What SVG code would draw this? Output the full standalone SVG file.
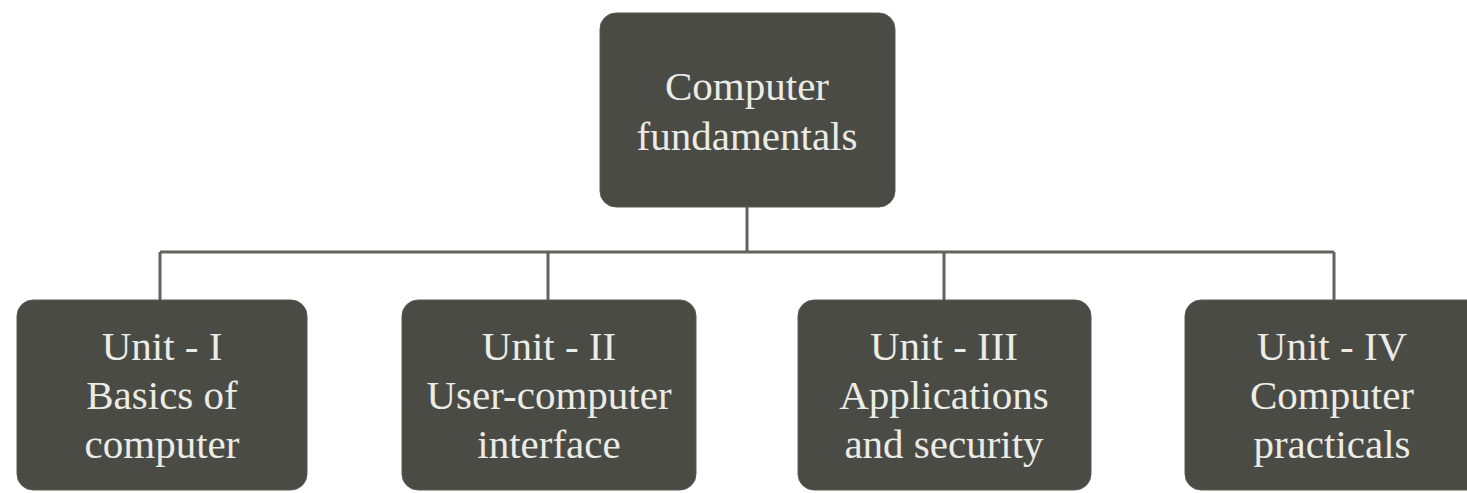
<svg xmlns="http://www.w3.org/2000/svg" width="1467" height="493" viewBox="0 0 1467 493">
<style>
.box{fill:#4b4b46;stroke:#5a5a55;stroke-width:1}
.t{font-family:"Liberation Serif","Times New Roman",serif;font-size:41px;fill:#ecece6;text-anchor:middle}
.c{stroke:#626260;stroke-width:3;fill:none}
</style>
<rect width="1467" height="493" fill="#ffffff"/>
<g id="connectors">
<path class="c" d="M747 207V252M160 252H1334M160 252V300M548 252V300M944 252V300M1334 252V300"/>
</g>
<g id="root">
<rect class="box" x="600" y="13" width="295" height="194" rx="16"/>
<text class="t" x="747" y="100">Computer</text>
<text class="t" x="747" y="150">fundamentals</text>
</g>
<g id="unit1">
<rect class="box" x="17" y="300" width="290" height="190" rx="16"/>
<text class="t" x="162" y="360">Unit - I</text>
<text class="t" x="162" y="409">Basics of</text>
<text class="t" x="162" y="458">computer</text>
</g>
<g id="unit2">
<rect class="box" x="402" y="300" width="294" height="190" rx="16"/>
<text class="t" x="549" y="360">Unit - II</text>
<text class="t" x="549" y="409">User-computer</text>
<text class="t" x="549" y="458">interface</text>
</g>
<g id="unit3">
<rect class="box" x="798" y="300" width="293" height="190" rx="16"/>
<text class="t" x="944" y="360">Unit - III</text>
<text class="t" x="944" y="409">Applications</text>
<text class="t" x="944" y="458">and security</text>
</g>
<g id="unit4">
<rect class="box" x="1185" y="300" width="300" height="190" rx="16"/>
<text class="t" x="1332" y="360">Unit - IV</text>
<text class="t" x="1332" y="409">Computer</text>
<text class="t" x="1332" y="458">practicals</text>
</g>
</svg>
